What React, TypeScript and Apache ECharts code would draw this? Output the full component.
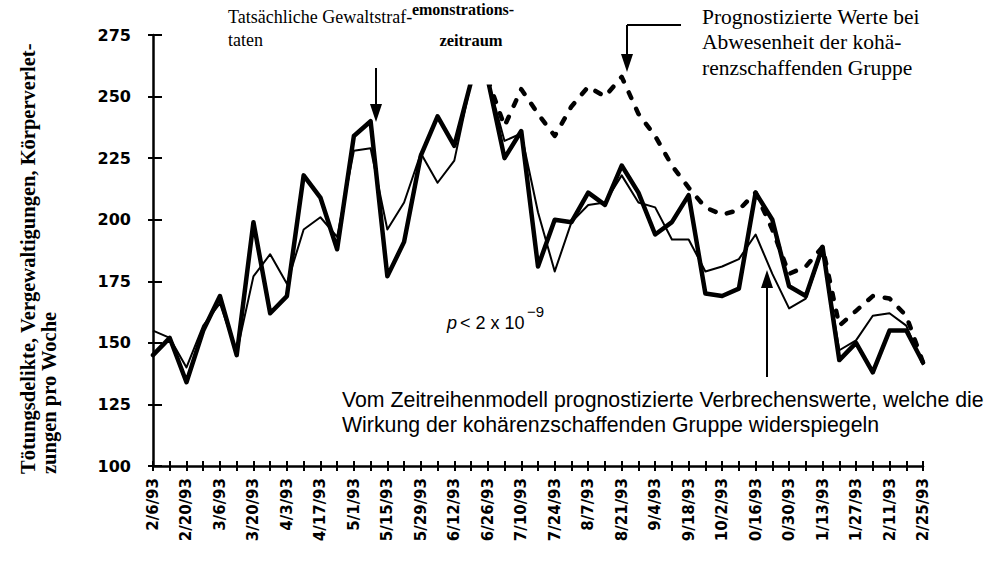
import React, { useEffect, useRef } from "react";
import * as echarts from "echarts";

const weeks = [
  "2/6/93", "2/13/93", "2/20/93", "2/27/93", "3/6/93", "3/13/93", "3/20/93", "3/27/93",
  "4/3/93", "4/10/93", "4/17/93", "4/24/93", "5/1/93", "5/8/93", "5/15/93", "5/22/93",
  "5/29/93", "6/5/93", "6/12/93", "6/19/93", "6/26/93", "7/3/93", "7/10/93", "7/17/93",
  "7/24/93", "7/31/93", "8/7/93", "8/14/93", "8/21/93", "8/28/93", "9/4/93", "9/11/93",
  "9/18/93", "9/25/93", "10/2/93", "10/9/93", "10/16/93", "10/23/93", "10/30/93", "11/6/93",
  "11/13/93", "11/20/93", "11/27/93", "12/4/93", "12/11/93", "12/18/93", "12/25/93",
];

const tickLabels = [
  "2/6/93", "2/20/93", "3/6/93", "3/20/93", "4/3/93", "4/17/93", "5/1/93", "5/15/93",
  "5/29/93", "6/12/93", "6/26/93", "7/10/93", "7/24/93", "8/7/93", "8/21/93", "9/4/93",
  "9/18/93", "10/2/93", "0/16/93", "0/30/93", "1/13/93", "1/27/93", "2/11/93", "2/25/93",
];

// Tatsächliche Gewaltstraftaten (thick line)
const actual = [
  145, 152, 134, 155, 169, 145, 199, 162, 169, 218, 209, 188, 234, 240, 177, 191,
  226, 242, 230, 256, 257, 225, 236, 181, 200, 199, 211, 206, 222, 211, 194, 199,
  210, 170, 169, 172, 211, 200, 173, 169, 189, 143, 150, 138, 155, 155, 142,
];

// Vom Zeitreihenmodell prognostizierte Werte (thin line)
const modelled = [
  155, 152, 140, 157, 166, 146, 177, 186, 174, 196, 201, 193, 228, 229, 196, 207,
  227, 215, 224, 256, 257, 232, 235, 203, 179, 199, 206, 207, 218, 207, 205, 192,
  192, 179, 181, 184, 194, 178, 164, 168, 188, 147, 151, 161, 162, 157, 141,
];

// Prognostizierte Werte bei Abwesenheit der Gruppe (dashed line)
const withoutGroup = [
  null, null, null, null, null, null, null, null, null, null, null, null, null, null, null, null,
  null, null, null, null, 257, 238, 253, 243, 234, 246, 254, 250, 258, 243, 234, 222,
  213, 205, 202, 204, 211, 196, 178, 181, 189, 157, 163, 169, 168, 161, 142,
];

const yMin = 100;
const yMax = 275;
const yStep = 25;

const SERIF = '"Liberation Serif", "Times New Roman", serif';
const SANS = '"Liberation Sans", Arial, sans-serif';

export default function App() {
  const ref = useRef<HTMLDivElement>(null);

  useEffect(() => {
    if (!ref.current) return;
    const chart = echarts.init(ref.current, undefined, { renderer: "svg" });

    const arrowDown = (x: number, y1: number, tip: number) => [
      { type: "line", z: 120, shape: { x1: x, y1, x2: x, y2: tip - 10 }, style: { stroke: "#000", lineWidth: 2 } },
      { type: "polygon", z: 120, shape: { points: [[x - 6, tip - 18], [x + 6, tip - 18], [x, tip]] }, style: { fill: "#000" } },
    ];
    const arrowUp = (x: number, y1: number, tip: number) => [
      { type: "line", z: 120, shape: { x1: x, y1, x2: x, y2: tip + 10 }, style: { stroke: "#000", lineWidth: 2 } },
      { type: "polygon", z: 120, shape: { points: [[x - 6, tip + 18], [x + 6, tip + 18], [x, tip]] }, style: { fill: "#000" } },
    ];

    chart.setOption({
      animation: false,
      backgroundColor: "#fff",
      grid: { left: 153, right: 66, top: 35, bottom: 110, containLabel: false },
      xAxis: [
        {
          type: "category",
          data: weeks,
          boundaryGap: false,
          axisLine: { lineStyle: { color: "#000", width: 2.5 } },
          axisTick: { show: true, interval: 0, length: 5, lineStyle: { color: "#000", width: 2 } },
          axisLabel: {
            interval: 1,
            rotate: 90,
            margin: 12,
            color: "#000",
            fontFamily: '"DejaVu Sans", sans-serif',
            fontWeight: "bold",
            fontSize: 15,
            formatter: (_v: string, i: number) => tickLabels[Math.floor(i / 2)] ?? "",
          },
          splitLine: { show: false },
        },
        {
          type: "category",
          data: weeks,
          boundaryGap: false,
          position: "bottom",
          axisLine: { show: false },
          axisTick: { show: true, inside: true, interval: 0, length: 5, lineStyle: { color: "#000", width: 2 } },
          axisLabel: { show: false },
          splitLine: { show: false },
        },
      ],
      yAxis: [
        {
          type: "value",
          min: yMin,
          max: yMax,
          interval: yStep,
          axisLine: { show: true, lineStyle: { color: "#000", width: 2.5 } },
          axisTick: { show: true, length: 5, lineStyle: { color: "#000", width: 2 } },
          axisLabel: {
            margin: 22,
            color: "#000",
            fontFamily: '"DejaVu Sans", sans-serif',
            fontWeight: "bold",
            fontSize: 16,
          },
          splitLine: { show: false },
        },
        {
          type: "value",
          min: yMin,
          max: yMax,
          interval: yStep,
          position: "left",
          axisLine: { show: false },
          axisTick: { show: true, inside: true, length: 9, lineStyle: { color: "#000", width: 2 } },
          axisLabel: { show: false },
          splitLine: { show: false },
        },
      ],
      series: [
        {
          name: "Tatsächliche Gewaltstraftaten",
          type: "line",
          data: actual,
          symbol: "none",
          z: 4,
          lineStyle: { color: "#000", width: 4.5, cap: "round", join: "round" },
        },
        {
          name: "Vom Zeitreihenmodell prognostizierte Verbrechenswerte",
          type: "line",
          data: modelled,
          symbol: "none",
          z: 5,
          lineStyle: { color: "#000", width: 2, join: "round" },
        },
        {
          name: "Prognostizierte Werte bei Abwesenheit der Gruppe",
          type: "line",
          data: withoutGroup,
          symbol: "none",
          z: 3,
          connectNulls: false,
          lineStyle: { color: "#000", width: 4.5, type: [6, 12], cap: "round", join: "round" },
        },
      ],
      graphic: [
        // white label box cutting the peak of the lines
        { type: "rect", z: 100, shape: { x: 463, y: 36, width: 33, height: 48.5 }, style: { fill: "#fff" } },
        {
          type: "text", z: 130, x: 228, y: 5,
          style: { text: "Tatsächliche Gewaltstraf-\ntaten", font: `18px ${SERIF}`, fill: "#000", textAlign: "left", textVerticalAlign: "top", lineHeight: 23 },
        },
        ...arrowDown(376, 68, 122),
        {
          type: "text", z: 130, x: 463, y: 9,
          style: { text: "emonstrations-", font: `bold 16px ${SERIF}`, fill: "#000", textAlign: "center", textVerticalAlign: "middle" },
        },
        {
          type: "text", z: 130, x: 471, y: 40,
          style: { text: "zeitraum", font: `bold 16.5px ${SERIF}`, fill: "#000", textAlign: "center", textVerticalAlign: "middle" },
        },
        {
          type: "text", z: 130, x: 702, y: 4,
          style: { text: "Prognostizierte Werte bei\nAbwesenheit der kohä-\nrenzschaffenden Gruppe", font: `21.5px ${SERIF}`, fill: "#000", textAlign: "left", textVerticalAlign: "top", lineHeight: 25.5 },
        },
        { type: "line", z: 120, shape: { x1: 627, y1: 25, x2: 681, y2: 25 }, style: { stroke: "#000", lineWidth: 2 } },
        ...arrowDown(627, 25, 72),
        ...arrowUp(767, 377, 270),
        {
          type: "text", z: 130, x: 342, y: 412.5,
          style: { text: "Vom Zeitreihenmodell prognostizierte Verbrechenswerte, welche die\nWirkung der kohärenzschaffenden Gruppe widerspiegeln", font: `21.3px ${SANS}`, fill: "#000", textAlign: "left", textVerticalAlign: "middle", lineHeight: 25 },
        },
        {
          type: "text", z: 130, x: 447, y: 323,
          style: { text: "p", font: `italic 18px ${SANS}`, fill: "#000", textAlign: "left", textVerticalAlign: "middle" },
        },
        {
          type: "text", z: 130, x: 460, y: 323,
          style: { text: "< 2 x 10", font: `18px ${SANS}`, fill: "#000", textAlign: "left", textVerticalAlign: "middle" },
        },
        {
          type: "text", z: 130, x: 527, y: 311,
          style: { text: "−9", font: `15px ${SANS}`, fill: "#000", textAlign: "left", textVerticalAlign: "middle" },
        },
        {
          type: "text", z: 130, x: 17, y: 474, rotation: Math.PI / 2,
          style: { text: "Tötungsdelikte, Vergewaltigungen, Körperverlet-\nzungen pro Woche", font: `bold 20.5px ${SERIF}`, fill: "#000", textAlign: "left", textVerticalAlign: "top", lineHeight: 21 },
        },
      ],
    });

    return () => chart.dispose();
  }, []);

  return (
    <div
      ref={ref}
      style={{ position: "absolute", left: 0, top: 0, width: 989, height: 576, background: "#fff" }}
    />
  );
}
